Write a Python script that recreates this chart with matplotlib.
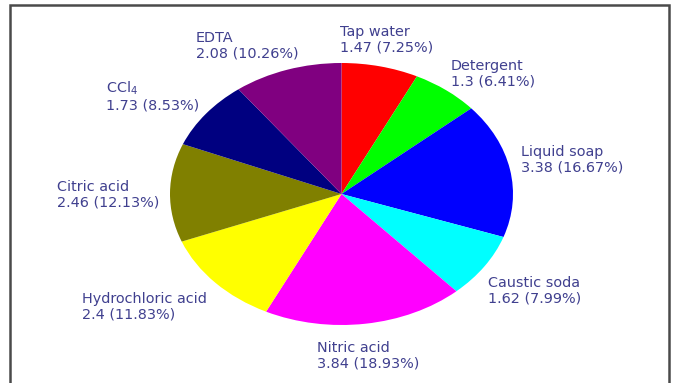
import matplotlib
matplotlib.use("Agg")
import matplotlib.pyplot as plt
from matplotlib.patches import Rectangle

# Slice data, clockwise from 12 o'clock
categories = ["Tap water", "Detergent", "Liquid soap", "Caustic soda", "Nitric acid",
              "Hydrochloric acid", "Citric acid", "CCl$_4$", "EDTA"]
values = [1.47, 1.3, 3.38, 1.62, 3.84, 2.4, 2.46, 1.73, 2.08]
colors = ["#FF0000", "#00FF00", "#0000FF", "#00FFFF", "#FF00FF",
          "#FFFF00", "#808000", "#000080", "#800080"]

# Top-left anchor of each label, in pixels from the figure's top-left corner
label_xy = [(340, 25), (451, 59), (521, 145), (488, 276), (317, 341),
            (82, 292), (57, 180), (106, 80), (196, 31)]

W, H = 676, 383
fig = plt.figure(figsize=(W / 100, H / 100), dpi=100)
fig.patch.set_facecolor("white")

# Pie bounding box in pixels (left, top, right, bottom)
pl, pt, pr, pb = 170, 63, 513, 325
ax = fig.add_axes([pl / W, 1 - pb / H, (pr - pl) / W, (pb - pt) / H])
ax.pie(values, colors=colors, startangle=90, counterclock=False,
       wedgeprops=dict(linewidth=0, antialiased=True))
ax.set_aspect("auto")
ax.set_xlim(-1, 1)
ax.set_ylim(-1, 1)
ax.axis("off")

total = sum(values)
text_color = "#40408f"
for name, v, (x, y) in zip(categories, values, label_xy):
    pct = 100 * v / total
    fig.text(x / W, 1 - y / H, f"{name}\n{v:g} ({pct:.2f}%)",
             ha="left", va="top", fontsize=10.4, family="DejaVu Sans",
             color=text_color, linespacing=1.1)

# Outer frame (open at the bottom edge of the image)
frame = Rectangle((10 / W, -0.1), (669 - 10) / W, 1.1 - 5 / H,
                  transform=fig.transFigure, fill=False,
                  edgecolor="#4a4a4a", linewidth=1.8)
fig.patches.append(frame)

fig.savefig("out.png", dpi=100)
